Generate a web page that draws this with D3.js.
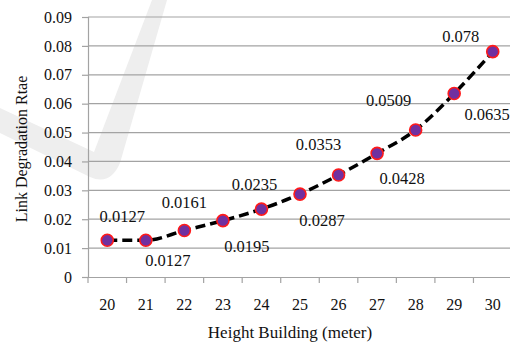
<!DOCTYPE html>
<html><head><meta charset="utf-8">
<script src="https://cdn.jsdelivr.net/npm/d3@7"></script>
<style>body{margin:0;background:#fff}svg{display:block}</style>
</head><body><div id="c"></div>
<script>
const categories = ["20","21","22","23","24","25","26","27","28","29","30"];
const values = [0.0127,0.0127,0.0161,0.0195,0.0235,0.0287,0.0353,0.0428,0.0509,0.0635,0.078];
const valueLabels = ["0.0127","0.0127","0.0161","0.0195","0.0235","0.0287","0.0353","0.0428","0.0509","0.0635","0.078"];
const yTicks = [0,0.01,0.02,0.03,0.04,0.05,0.06,0.07,0.08,0.09];
const yTickLabels = ["0","0.01","0.02","0.03","0.04","0.05","0.06","0.07","0.08","0.09"];
// label offsets (layout only)
const labelDx = [15,22,0,24,-7,22,-20,25,-27,33,-32];
const labelDy = [-24,20,-28,26,-25,26,-31,25,-30,21,-15];

const FONT='"Liberation Serif","Times New Roman",serif';
const W=510,H=345;
const svg=d3.select("#c").append("svg").attr("width",W).attr("height",H);
const mLeft=88,mRight=512,mTop=17,mBottom=277;

// watermark
svg.append("path")
 .attr("d","M152,0 L167,0 L120,163 Q110,186 90,177 L0,133 L0,108 L94,152 Z")
 .attr("fill","#eeeeee");

const x=d3.scaleBand().domain(categories).range([mLeft,mRight]);
const y=d3.scaleLinear().domain([0,0.09]).range([mBottom,mTop]);

// gridlines
svg.append("g").selectAll("line").data(yTicks.slice(1)).join("line")
 .attr("x1",mLeft).attr("x2",mRight).attr("y1",d=>y(d)).attr("y2",d=>y(d))
 .attr("stroke","#a3a3a3").attr("stroke-width",1.2);

// y axis
const ya=svg.append("g").attr("transform",`translate(${mLeft},0)`)
 .call(d3.axisLeft(y).tickValues(yTicks).tickFormat((d,i)=>yTickLabels[i]).tickSize(6).tickPadding(10));
ya.attr("font-family",FONT);
ya.select(".domain").attr("stroke","#a3a3a3").attr("stroke-width",1.2);
ya.selectAll(".tick line").attr("stroke","#a3a3a3").attr("stroke-width",1.2);
ya.selectAll("text").style("font-family",FONT).style("font-size","16px").attr("fill","#111");

// x axis
const xa=svg.append("g").attr("transform",`translate(0,${mBottom})`)
 .call(d3.axisBottom(x).tickSize(0).tickPadding(22));
xa.attr("font-family",FONT);
xa.select(".domain").attr("stroke","#a3a3a3").attr("stroke-width",1.2);
xa.selectAll("text").style("font-family",FONT).style("font-size","16px").attr("fill","#111");
svg.append("g").selectAll("line").data(categories.concat(["end"])).join("line")
 .attr("x1",(d,i)=>mLeft+i*x.step()).attr("x2",(d,i)=>mLeft+i*x.step())
 .attr("y1",mBottom).attr("y2",mBottom+6).attr("stroke","#a3a3a3").attr("stroke-width",1.2);

// line
const line=d3.line().x((d,i)=>x(categories[i])+x.bandwidth()/2).y(d=>y(d)).curve(d3.curveMonotoneX);
svg.append("path").datum(values).attr("d",line).attr("fill","none")
 .attr("stroke","#000").attr("stroke-width",3.5).attr("stroke-dasharray","10,5");

// markers
svg.append("g").selectAll("circle").data(values).join("circle")
 .attr("cx",(d,i)=>x(categories[i])+x.bandwidth()/2).attr("cy",d=>y(d)).attr("r",6)
 .attr("fill","#7030a0").attr("stroke","#ff1a1a").attr("stroke-width",1.6);

// data labels
svg.append("g").selectAll("text").data(values).join("text")
 .attr("x",(d,i)=>x(categories[i])+x.bandwidth()/2+labelDx[i])
 .attr("y",(d,i)=>y(d)+labelDy[i]).attr("dy","0.35em")
 .attr("text-anchor","middle").style("font-family",FONT).style("font-size","16.5px").attr("fill","#111")
 .text((d,i)=>valueLabels[i]);

// titles
svg.append("text").attr("x",(mLeft+mRight)/2-10).attr("y",338).attr("text-anchor","middle")
 .style("font-family",FONT).style("font-size","17px").attr("fill","#111").text("Height Building (meter)");
svg.append("text").attr("transform","translate(27,149) rotate(-90)").attr("text-anchor","middle")
 .style("font-family",FONT).style("font-size","16px").attr("fill","#111").text("Link Degradation Rtae");
</script></body></html>
